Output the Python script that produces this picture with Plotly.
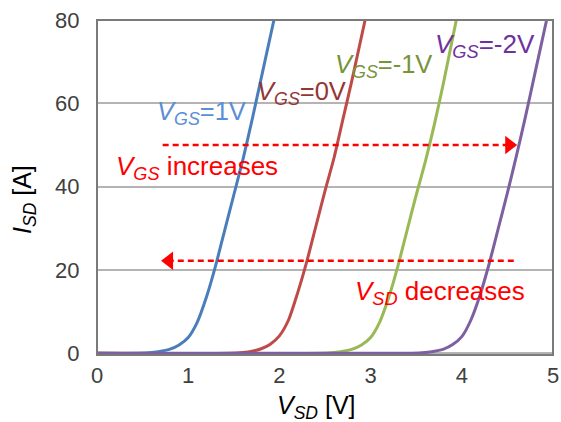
import plotly.graph_objects as go

# V_SD [V] and I_SD [A]
vsd_1v = [0, 0.45, 0.6, 0.7, 0.8, 0.9, 1.0, 1.1, 1.2, 1.3, 1.4, 1.5, 1.6, 1.7, 1.8, 1.94]
isd_1v = [0, 0, 0.2, 0.5, 1.0, 2.0, 3.8, 7.5, 13.5, 21, 29.5, 38, 46.5, 56, 66, 80]

vsd_0v = [0, 1.45, 1.6, 1.7, 1.8, 1.9, 2.0, 2.1, 2.2, 2.3, 2.4, 2.5, 2.6, 2.7, 2.8, 2.94]
isd_0v = [0, 0, 0.2, 0.5, 1.1, 2.2, 4.2, 8.0, 14.5, 22, 30.5, 39, 47, 56.5, 66, 80]

vsd_m1v = [0, 2.45, 2.6, 2.7, 2.8, 2.9, 3.0, 3.1, 3.2, 3.3, 3.4, 3.5, 3.6, 3.7, 3.8, 3.94]
isd_m1v = [0, 0, 0.2, 0.5, 1.0, 2.0, 3.8, 7.5, 13.5, 21, 29.5, 38, 46, 55, 65, 80]

vsd_m2v = [0, 3.45, 3.6, 3.7, 3.8, 3.9, 4.0, 4.1, 4.2, 4.3, 4.4, 4.5, 4.6, 4.7, 4.8, 4.93]
isd_m2v = [0, 0, 0.2, 0.5, 1.0, 2.1, 4.0, 8.0, 14.0, 21.5, 30, 38.5, 47.5, 57, 67, 80]

series_names = ["V<sub>GS</sub>=1V", "V<sub>GS</sub>=0V", "V<sub>GS</sub>=-1V", "V<sub>GS</sub>=-2V"]
line_colors = ["#4A7EBB", "#BE4B48", "#98B954", "#7D60A0"]
label_colors = ["#5B8ED6", "#943634", "#77933C", "#7030A0"]

x_ticks = [0, 1, 2, 3, 4, 5]
y_ticks = [0, 20, 40, 60, 80]

# arrows (data coordinates)
arrow_up_x = [0.72, 4.52]
arrow_up_y = [50, 50]
arrow_down_x = [4.57, 0.79]
arrow_down_y = [22.2, 22.2]

FONT = "Arial, Liberation Sans, sans-serif"

W, H = 561, 422
ML, MR, MT, MB = 97, 8, 20, 67
PW, PH = W - ML - MR, H - MT - MB

fig = go.Figure()
xs = [vsd_1v, vsd_0v, vsd_m1v, vsd_m2v]
ys = [isd_1v, isd_0v, isd_m1v, isd_m2v]
for x, y, c, n in zip(xs, ys, line_colors, series_names):
    fig.add_trace(go.Scatter(x=x, y=y, mode="lines", line=dict(color=c, width=3, shape="spline", smoothing=0.6),
                             name=n, showlegend=False, hoverinfo="skip"))

# dashed arrows
for ax_, ay_, sym in [(arrow_up_x, arrow_up_y, "triangle-right"), (arrow_down_x, arrow_down_y, "triangle-left")]:
    fig.add_trace(go.Scatter(x=ax_, y=ay_, mode="lines", line=dict(color="#FF0000", width=2.5, dash="6px,4px"),
                             showlegend=False, hoverinfo="skip"))
    fig.add_trace(go.Scatter(x=[ax_[1]], y=[ay_[1]], mode="markers",
                             marker=dict(symbol=sym, size=16, color="#FF0000"),
                             showlegend=False, hoverinfo="skip", cliponaxis=False))

def lab(x, y, text, color, size):
    fig.add_annotation(x=x, y=y, xref="x", yref="y", text=text, showarrow=False,
                       xanchor="left", yanchor="middle",
                       font=dict(family=FONT, size=size, color=color))

lab(0.64, 57.8, "<i>V<sub>GS</sub></i>=1V", label_colors[0], 25.5)
lab(1.73, 62.4, "<i>V<sub>GS</sub></i>=0V", label_colors[1], 25.5)
lab(2.59, 69.0, "<i>V<sub>GS</sub></i>=-1V", label_colors[2], 25.5)
lab(3.68, 73.8, "<i>V<sub>GS</sub></i>=-2V", label_colors[3], 26)
lab(0.19, 44.6, "<i>V<sub>GS</sub></i> increases", "#FF0000", 26)
lab(2.81, 14.7, "<i>V<sub>SD</sub></i> decreases", "#FF0000", 26)

# axis titles (positions in px relative to the plot area)
fig.add_annotation(x=(316 - ML) / PW, y=(MT + PH - 407) / PH, xref="paper", yref="paper",
                   text="<i>V<sub>SD</sub></i> [V]", showarrow=False, xanchor="center", yanchor="middle",
                   font=dict(family=FONT, size=25, color="#000000"))
fig.add_annotation(x=(24 - ML) / PW, y=(MT + PH - 200) / PH, xref="paper", yref="paper",
                   text="<i>I<sub>SD</sub></i> [A]", showarrow=False, xanchor="center", yanchor="middle",
                   textangle=-90, font=dict(family=FONT, size=25, color="#000000"))

# plot frame
fig.add_shape(type="rect", xref="paper", yref="paper", x0=0, x1=1, y0=0, y1=1,
              line=dict(color="#7A7A7A", width=2), layer="above")

fig.update_layout(
    width=W, height=H,
    margin=dict(l=ML, r=MR, t=MT, b=MB, autoexpand=False),
    paper_bgcolor="white", plot_bgcolor="white",
    font=dict(family=FONT, color="#404040"),
    xaxis=dict(range=[0, 5], tickvals=x_ticks, ticktext=[str(v) for v in x_ticks],
               showgrid=False, zeroline=False, showline=False,
               ticks="", automargin=False,
               ticklabelstandoff=5, ticklabeloverflow="allow",
               tickfont=dict(size=22, color="#404040")),
    yaxis=dict(range=[-0.4, 80], tickvals=y_ticks, ticktext=[str(v) for v in y_ticks],
               showgrid=True, gridcolor="#B4B4B4", gridwidth=1.5, zeroline=False,
               showline=False,
               ticks="outside", ticklen=12, tickcolor="rgba(0,0,0,0)",
               automargin=False, ticklabeloverflow="allow",
               tickfont=dict(size=22, color="#404040")),
)

fig.write_html("out.html", config={"displayModeBar": False},
               post_script="document.body.style.margin='0';document.body.style.overflow='hidden';")
